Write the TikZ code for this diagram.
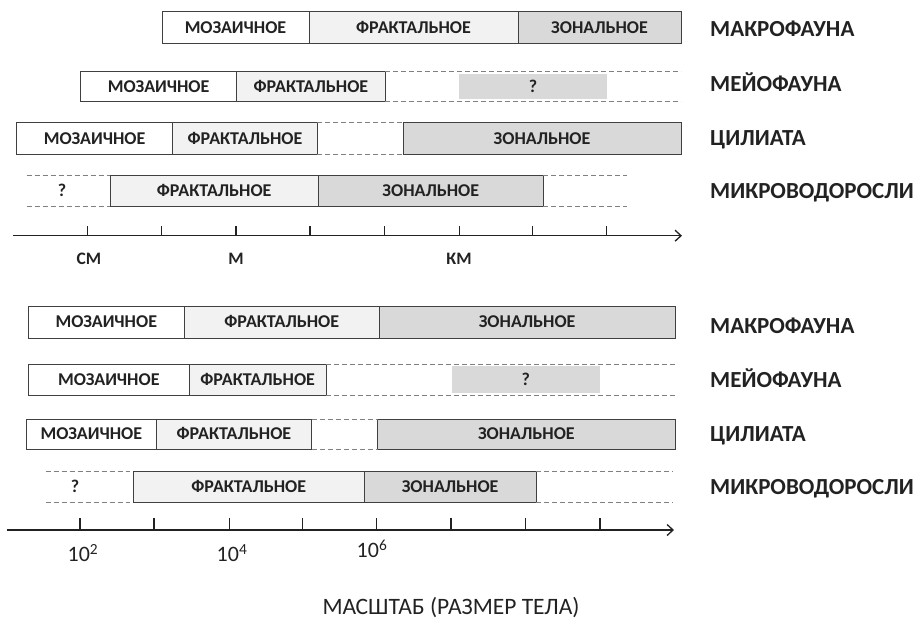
\documentclass[tikz,border=0pt]{standalone}
\usepackage{fontspec}
\setmainfont{Carlito}
\usetikzlibrary{arrows.meta}
\definecolor{bordc}{HTML}{404040}
\definecolor{fractc}{HTML}{F2F2F2}
\definecolor{zonc}{HTML}{D9D9D9}
\definecolor{dashc}{HTML}{808080}
\definecolor{inkc}{HTML}{222222}
\newcommand\seg[7]{\node[#6, minimum width={(#3-#2)*1pt}, minimum height={(#5-#4)*1pt}] (#1) at ({(#2+#3)/2},{(#4+#5)/2}) {#7};}
\begin{document}
\begin{tikzpicture}[x=1pt,y=-1pt,
  segbox/.style={draw=bordc, line width=0.9pt, inner sep=0pt, outer sep=0pt, text=inkc, text height=11.6pt, text depth=0pt, font=\bfseries\fontsize{18}{20}\selectfont},
  mos/.style={segbox, fill=white},
  frac/.style={segbox, fill=fractc},
  zon/.style={segbox, fill=zonc},
  qbox/.style={fill=zonc, inner sep=0pt, outer sep=0pt, text=inkc, text height=11.6pt, text depth=0pt, font=\bfseries\fontsize{18}{20}\selectfont},
  qtext/.style={inner sep=0pt, text=inkc, text height=11.6pt, text depth=0pt, font=\bfseries\fontsize{18}{20}\selectfont},
  dashline/.style={draw=dashc, line width=0.9pt, dash pattern=on 5pt off 3pt},
  grp/.style={anchor=west, inner sep=0pt, text=inkc, text height=14.8pt, text depth=0pt, font=\bfseries\fontsize{23}{26}\selectfont},
  axisline/.style={line width=1.3pt, draw=inkc, -{Straight Barb[length=6pt,width=11pt,line width=1.3pt]}},
  tickmark/.style={line width=1.2pt, draw=inkc},
  unitlbl/.style={inner sep=0pt, text=inkc, text height=11.3pt, text depth=0pt, font=\bfseries\fontsize{17.5}{20}\selectfont},
  powlbl/.style={inner sep=0pt, text=inkc, font=\fontsize{22}{24}\selectfont},
  titlelbl/.style={inner sep=0pt, text=inkc, font=\fontsize{23.5}{26}\selectfont}]
\useasboundingbox (0,0) rectangle (920,625);
% ===== TOP PANEL =====
% row 1
\seg{ta1}{162}{309}{11.5}{43}{mos}{МОЗАИЧНОЕ}
\seg{tb1}{309}{518}{11.5}{43}{frac}{ФРАКТАЛЬНОЕ}
\seg{tc1}{518}{681}{11.5}{43}{zon}{ЗОНАЛЬНОЕ}
\node[grp] (tl1) at (710,29) {МАКРОФАУНА};
% row 2
\seg{tq2}{459}{607}{73.5}{99}{qbox}{?}
\seg{ta2}{80.7}{236.7}{71}{101.5}{mos}{МОЗАИЧНОЕ}
\seg{tb2}{236.7}{385}{71}{101.5}{frac}{ФРАКТАЛЬНОЕ}
\coordinate (te2) at (681,71);
\draw[dashline] (tb2.north east) -- (te2);
\draw[dashline] (tb2.south east) -- (te2 |- tb2.south);
\node[grp] (tl2) at (710,84) {МЕЙОФАУНА};
% row 3
\seg{ta3}{16.7}{172.7}{122.5}{154}{mos}{МОЗАИЧНОЕ}
\seg{tb3}{172.7}{317.3}{122.5}{154}{frac}{ФРАКТАЛЬНОЕ}
\seg{tc3}{403}{681}{122.5}{154}{zon}{ЗОНАЛЬНОЕ}
\draw[dashline] (tb3.north east) -- (tc3.north west);
\draw[dashline] (tb3.south east) -- (tc3.south west);
\node[grp] (tl3) at (710,138) {ЦИЛИАТА};
% row 4
\coordinate (ts4) at (26.7,175);
\node[qtext] (tq4) at (62,191) {?};
\seg{tb4}{110}{318.3}{175}{206.5}{frac}{ФРАКТАЛЬНОЕ}
\seg{tc4}{318.3}{543.3}{175}{206.5}{zon}{ЗОНАЛЬНОЕ}
\coordinate (te4) at (626.7,175);
\draw[dashline] (ts4) -- (tb4.north west);
\draw[dashline] (ts4 |- tb4.south) -- (tb4.south west);
\draw[dashline] (tc4.north east) -- (te4);
\draw[dashline] (tc4.south east) -- (te4 |- tc4.south);
\node[grp] (tl4) at (710,191) {МИКРОВОДОРОСЛИ};
% axis
\coordinate (tax0) at (13,235.7);
\coordinate (tax1) at (682,235.7);
\draw[axisline] (tax0) -- (tax1);
\foreach \xx in {87.7,161.7,236,310,384.3,459.3,532.7,606.7}
  \draw[tickmark] (\xx,235.7) -- ++(0,-10);
\node[unitlbl] (tu1) at (89,259) {СМ};
\node[unitlbl] (tu2) at (236,259) {М};
\node[unitlbl] (tu3) at (459,259) {КМ};
% ===== BOTTOM PANEL =====
% row 1
\seg{ba1}{28.3}{184.3}{306}{338}{mos}{МОЗАИЧНОЕ}
\seg{bb1}{184.3}{379.3}{306}{338}{frac}{ФРАКТАЛЬНОЕ}
\seg{bc1}{379.3}{675}{306}{338}{zon}{ЗОНАЛЬНОЕ}
\node[grp] (bl1) at (710,326) {МАКРОФАУНА};
% row 2
\seg{bq2}{451.7}{600}{366}{393}{qbox}{?}
\seg{ba2}{28.3}{189.3}{364}{395}{mos}{МОЗАИЧНОЕ}
\seg{bb2}{189.3}{326}{364}{395}{frac}{ФРАКТАЛЬНОЕ}
\coordinate (be2) at (675,364);
\draw[dashline] (bb2.north east) -- (be2);
\draw[dashline] (bb2.south east) -- (be2 |- bb2.south);
\node[grp] (bl2) at (710,380) {МЕЙОФАУНА};
% row 3
\seg{ba3}{26.7}{156}{419.3}{449}{mos}{МОЗАИЧНОЕ}
\seg{bb3}{156}{311.7}{419.3}{449}{frac}{ФРАКТАЛЬНОЕ}
\seg{bc3}{377.7}{675}{419.3}{449}{zon}{ЗОНАЛЬНОЕ}
\draw[dashline] (bb3.north east) -- (bc3.north west);
\draw[dashline] (bb3.south east) -- (bc3.south west);
\node[grp] (bl3) at (710,434) {ЦИЛИАТА};
% row 4
\coordinate (bs4) at (45.7,471.5);
\node[qtext] (bq4) at (75,487) {?};
\seg{bb4}{133.3}{364.3}{471.5}{502.3}{frac}{ФРАКТАЛЬНОЕ}
\seg{bc4}{364.3}{536}{471.5}{502.3}{zon}{ЗОНАЛЬНОЕ}
\coordinate (be4) at (673,471.5);
\draw[dashline] (bs4) -- ([xshift=-3pt]bb4.north west);
\draw[dashline] (bs4 |- bb4.south) -- ([xshift=-3pt]bb4.south west);
\draw[dashline] (bc4.north east) -- (be4);
\draw[dashline] (bc4.south east) -- (be4 |- bc4.south);
\node[grp] (bl4) at (710,487) {МИКРОВОДОРОСЛИ};
% axis
\coordinate (bax0) at (6.7,530);
\coordinate (bax1) at (674,530);
\draw[axisline] (bax0) -- (bax1);
\foreach \xx in {80,154,229.3,302.7,376.7,451,525.7,600}
  \draw[tickmark] (\xx,530) -- ++(0,-12);
\node[powlbl] (bp1) at (83,553) {10\textsuperscript{2}};
\node[powlbl] (bp2) at (232,553) {10\textsuperscript{4}};
\node[powlbl] (bp3) at (372,549) {10\textsuperscript{6}};
\node[titlelbl] (title) at (451,608) {МАСШТАБ (РАЗМЕР ТЕЛА)};
\end{tikzpicture}
\end{document}
